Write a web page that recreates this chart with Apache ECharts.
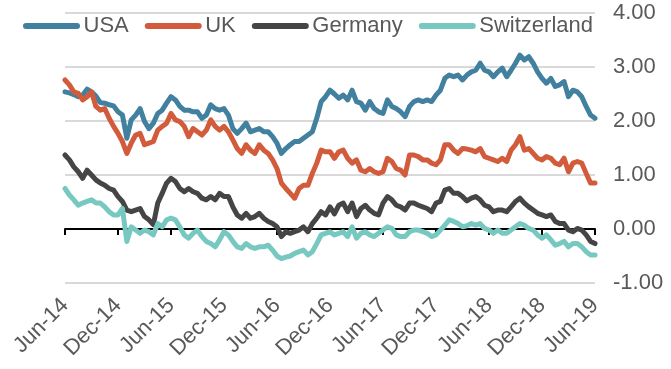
<!DOCTYPE html>
<html>
<head>
<meta charset="utf-8">
<script src="https://cdn.jsdelivr.net/npm/echarts@6/dist/echarts.min.js"></script>
<style>
html,body{margin:0;padding:0;background:#fff;}
#chart{width:671px;height:369px;}
</style>
</head>
<body>
<div id="chart"></div>
<script>
// Semi-monthly observations, Jun-2014 .. Jun-2019 (121 points)
const tickLabels = ["Jun-14","Dec-14","Jun-15","Dec-15","Jun-16","Dec-16","Jun-17","Dec-17","Jun-18","Dec-18","Jun-19"];
const seriesNames = ["USA","UK","Germany","Switzerland"];

const usa = [2.54,2.52,2.49,2.45,2.48,2.59,2.54,2.46,2.34,2.33,2.30,2.28,2.17,2.11,1.68,2.02,2.11,2.23,1.99,1.86,1.96,2.14,2.20,2.33,2.45,2.39,2.27,2.20,2.20,2.17,2.17,
2.05,2.11,2.30,2.23,2.20,2.23,2.11,1.86,1.77,1.86,1.96,1.80,1.83,1.86,1.80,1.80,1.71,1.59,1.40,1.49,1.56,1.62,1.62,1.68,1.74,1.80,2.05,2.36,2.45,2.57,2.50,
2.42,2.48,2.39,2.57,2.36,2.33,2.20,2.36,2.23,2.17,2.14,2.39,2.27,2.23,2.17,2.08,2.27,2.36,2.39,2.36,2.39,2.36,2.48,2.57,2.79,2.85,2.82,2.85,2.76,2.85,
2.91,2.94,3.07,2.94,2.91,2.82,2.91,2.98,2.82,2.94,3.07,3.22,3.13,3.19,3.07,2.91,2.79,2.70,2.79,2.64,2.67,2.73,2.45,2.57,2.54,2.45,2.27,2.11,2.05];

const uk = [2.76,2.67,2.54,2.51,2.39,2.45,2.54,2.27,2.20,2.23,2.05,1.90,1.77,1.62,1.40,1.59,1.74,1.77,1.56,1.59,1.62,1.83,1.90,1.96,2.14,2.02,1.99,1.90,1.71,1.86,1.80,
1.74,1.83,2.02,1.90,1.83,1.90,1.80,1.65,1.49,1.40,1.56,1.46,1.40,1.56,1.46,1.40,1.28,1.12,0.85,0.75,0.66,0.57,0.75,0.81,0.81,1.03,1.22,1.46,1.43,1.43,1.31,
1.43,1.46,1.31,1.22,1.28,1.09,1.06,1.12,1.06,1.03,1.06,1.31,1.25,1.12,1.09,1.00,1.37,1.37,1.34,1.28,1.28,1.22,1.19,1.28,1.56,1.56,1.46,1.40,1.49,1.48,
1.46,1.43,1.49,1.34,1.31,1.28,1.25,1.31,1.25,1.46,1.56,1.71,1.46,1.49,1.40,1.31,1.28,1.34,1.31,1.22,1.19,1.31,1.06,1.22,1.25,1.22,1.03,0.85,0.85];

const germany = [1.37,1.28,1.15,1.06,0.94,1.09,1.00,0.91,0.85,0.81,0.75,0.72,0.60,0.51,0.35,0.32,0.35,0.38,0.23,0.17,0.08,0.48,0.66,0.85,0.94,0.88,0.75,0.69,0.75,0.69,0.66,
0.57,0.54,0.60,0.54,0.66,0.60,0.60,0.41,0.26,0.20,0.29,0.20,0.23,0.29,0.20,0.14,0.10,0.04,-0.14,-0.05,-0.08,-0.05,-0.02,0.04,-0.05,0.10,0.20,0.32,0.26,0.41,0.28,
0.44,0.48,0.32,0.48,0.23,0.38,0.44,0.35,0.29,0.26,0.48,0.60,0.54,0.44,0.41,0.35,0.48,0.48,0.44,0.41,0.38,0.32,0.48,0.51,0.72,0.75,0.66,0.66,0.60,0.52,
0.57,0.60,0.54,0.44,0.41,0.32,0.35,0.35,0.32,0.41,0.51,0.57,0.48,0.41,0.35,0.29,0.26,0.23,0.26,0.14,0.10,0.10,-0.02,-0.05,0.01,-0.02,-0.11,-0.23,-0.27];

const switzerland = [0.75,0.63,0.54,0.44,0.48,0.51,0.54,0.48,0.48,0.41,0.32,0.26,0.26,0.38,-0.23,0.04,-0.02,-0.08,-0.02,-0.05,-0.11,0.10,0.04,0.17,0.20,0.17,0.04,-0.11,-0.17,-0.08,-0.02,
-0.14,-0.23,-0.27,-0.33,-0.20,-0.05,-0.11,-0.23,-0.33,-0.36,-0.27,-0.33,-0.36,-0.33,-0.33,-0.30,-0.39,-0.50,-0.55,-0.52,-0.50,-0.45,-0.42,-0.39,-0.48,-0.42,-0.27,-0.11,-0.08,-0.05,-0.11,
-0.08,-0.05,-0.14,0.04,-0.17,-0.08,-0.05,-0.11,-0.14,-0.08,-0.02,0.04,0.01,-0.11,-0.14,-0.14,-0.05,-0.02,-0.02,-0.05,-0.08,-0.14,-0.11,-0.02,0.07,0.17,0.14,0.10,0.04,0.06,
0.10,0.07,0.10,0.01,-0.02,-0.08,-0.02,-0.08,-0.08,-0.02,0.04,0.10,0.07,0.01,-0.02,-0.11,-0.17,-0.11,-0.20,-0.30,-0.27,-0.23,-0.33,-0.27,-0.27,-0.33,-0.42,-0.48,-0.48];

const colors = ["#41809f","#d25b3c","#454545","#78c8c2"];

// category names: half-month steps starting Jun 2014
const categories = [];
for (let i = 0; i < usa.length; i++) {
  const m = 5 + Math.floor(i / 2);
  const y = 2014 + Math.floor(m / 12);
  const mm = (m % 12) + 1;
  categories.push(y + "-" + String(mm).padStart(2, "0") + (i % 2 ? "-15" : "-01"));
}
const isTick = function (index) { return index % 12 === 0; };

const textColor = "#595959";
const font = "Liberation Sans, Arial, sans-serif";
const legendIcon = "path://M3,0H54A3,3,0,0,1,54,6H3A3,3,0,0,1,3,0Z";

const chart = echarts.init(document.getElementById("chart"), null, {renderer: "canvas"});
const dataArr = [usa, uk, germany, switzerland];

chart.setOption({
  animation: false,
  color: colors,
  textStyle: {fontFamily: font},
  grid: {left: 65, right: 76, top: 13, bottom: 86, containLabel: false},
  legend: {
    left: 18, top: 10,
    itemWidth: 58, itemHeight: 6, itemGap: 16,
    icon: legendIcon,
    textStyle: {fontSize: 22, color: textColor, fontFamily: font, padding: [0, 0, 0, -2]},
    data: seriesNames
  },
  xAxis: [{
    type: "category",
    data: categories,
    boundaryGap: false,
    axisLine: {onZero: true, lineStyle: {color: "#000", width: 2}},
    axisTick: {show: true, interval: isTick, length: 6, lineStyle: {color: "#000", width: 2}},
    axisLabel: {show: false},
    splitLine: {show: false}
  }, {
    type: "category",
    data: categories,
    boundaryGap: false,
    position: "bottom",
    axisLine: {show: false, onZero: false},
    axisTick: {show: false},
    axisLabel: {
      show: true, interval: isTick, rotate: 45, margin: 19,
      fontSize: 22, color: textColor, fontFamily: font,
      formatter: function (v, index) { return tickLabels[index / 12]; }
    },
    splitLine: {show: false}
  }],
  yAxis: {
    type: "value",
    position: "right",
    min: -1, max: 4, interval: 1,
    axisLine: {show: false},
    axisTick: {show: false},
    axisLabel: {
      margin: 18, fontSize: 22, color: textColor, fontFamily: font,
      formatter: function (v) { return v.toFixed(2); }
    },
    splitLine: {lineStyle: {color: "#d9d9d9", width: 2}}
  },
  series: seriesNames.map(function (name, k) {
    return {
      name: name,
      type: "line",
      xAxisIndex: 0,
      data: dataArr[k],
      showSymbol: false,
      symbol: "none",
      lineStyle: {width: 5, color: colors[k], cap: "round", join: "round"},
      itemStyle: {color: colors[k]}
    };
  })
});
</script>
</body>
</html>
